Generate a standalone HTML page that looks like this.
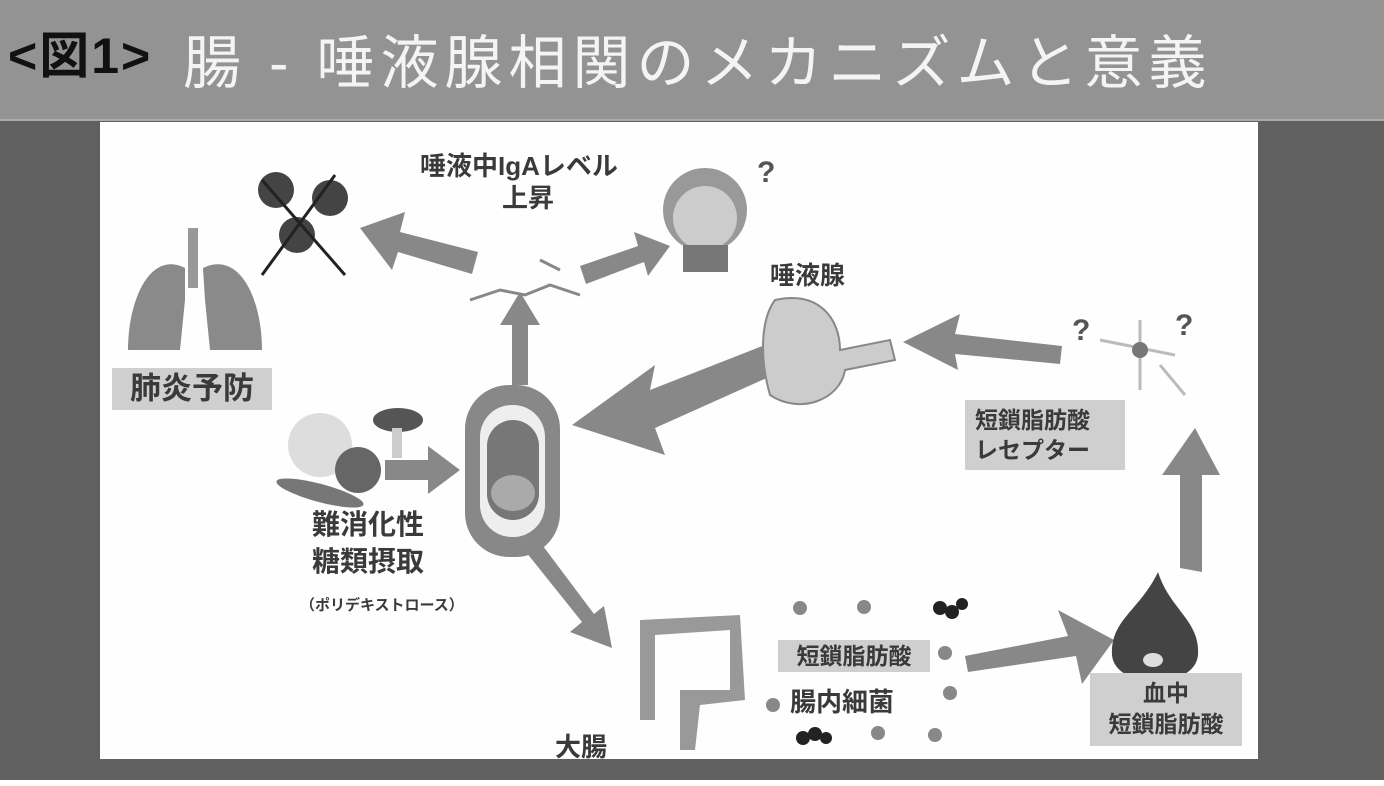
<!DOCTYPE html>
<html><head><meta charset="utf-8"><style>
html,body{margin:0;padding:0;}
body{width:1384px;height:786px;position:relative;overflow:hidden;background:#fff;font-family:"Liberation Sans","Noto Sans CJK JP",sans-serif;}
.banner{position:absolute;left:0;top:0;width:1384px;height:119px;background:#939393;border-bottom:2px solid #aaa;}
.dark{position:absolute;left:0;top:121px;width:1384px;height:659px;background:#606060;}
.panel{position:absolute;left:100px;top:122px;width:1158px;height:637px;background:#fefefe;}
.t{position:absolute;white-space:nowrap;color:#3a3a3a;font-weight:bold;}
.box{position:absolute;background:#cfcfcf;color:#3a3a3a;font-weight:bold;text-align:center;}
</style></head><body>
<div class="banner"></div>
<div class="t" style="left:8px;top:16px;font-size:50px;color:#111;letter-spacing:2px;">&lt;図1&gt;</div>
<div class="t" style="left:183px;top:16px;font-size:58px;color:#f4f4f4;font-weight:normal;letter-spacing:6px;">腸 - 唾液腺相関のメカニズムと意義</div>
<div class="dark"></div>
<div class="panel"></div>
<svg style="position:absolute;left:0;top:0" width="1384" height="786">
<g fill="#888">
<polygon points="478,252 400,232 405,212 360,228 392,270 398,252 472,274"/>
<polygon points="580,266 638,246 634,232 670,246 648,276 644,262 586,284"/>
<polygon points="512,385 512,325 500,325 520,292 540,325 528,325 528,385"/>
<polygon points="765,345 650,390 655,365 572,425 665,455 655,428 780,372"/>
<polygon points="1062,346 955,334 960,314 903,342 958,370 955,354 1060,364"/>
<polygon points="385,460 428,460 428,446 460,470 428,494 428,480 385,480"/>
<polygon points="526,552 582,622 570,632 612,648 604,606 594,614 540,542"/>
<polygon points="965,656 1068,636 1058,610 1114,640 1082,684 1076,656 968,672"/>
<polygon points="1180,568 1180,475 1162,475 1195,428 1220,475 1202,475 1202,572"/>
</g>
<g fill="#444"><circle cx="276" cy="190" r="18"/><circle cx="330" cy="198" r="18"/><circle cx="297" cy="235" r="18"/></g>
<line x1="262" y1="275" x2="335" y2="175" stroke="#222" stroke-width="3"/>
<line x1="262" y1="180" x2="345" y2="275" stroke="#222" stroke-width="3"/>
<rect x="188" y="228" width="10" height="60" fill="#999"/>
<path d="M185,268 C150,250 128,300 128,350 L180,350 L185,300Z" fill="#8a8a8a"/>
<path d="M203,268 C240,250 262,300 262,350 L210,350 L205,300Z" fill="#8a8a8a"/>
<circle cx="705" cy="210" r="42" fill="#999"/><circle cx="705" cy="218" r="32" fill="#ccc"/>
<rect x="683" y="245" width="45" height="27" fill="#777"/>
<g stroke="#888" stroke-width="3" fill="none"><path d="M470,300 l30,-10 l25,5 l25,-10 l30,10"/><path d="M540,260 l20,10"/></g>
<rect x="465" y="385" width="95" height="172" rx="44" fill="#888"/>
<rect x="480" y="405" width="65" height="132" rx="32" fill="#eee"/>
<rect x="487" y="420" width="52" height="100" rx="26" fill="#777"/>
<ellipse cx="513" cy="493" rx="22" ry="18" fill="#aaa"/>
<circle cx="320" cy="445" r="32" fill="#ddd"/>
<ellipse cx="398" cy="420" rx="25" ry="12" fill="#555"/>
<rect x="392" y="428" width="10" height="30" fill="#ccc"/>
<circle cx="358" cy="470" r="23" fill="#666"/>
<ellipse cx="320" cy="493" rx="45" ry="9" fill="#777" transform="rotate(15 320 493)"/>
<path d="M775,300 C820,290 840,320 840,350 L890,340 L895,360 L845,370 C840,400 800,415 770,395 C760,360 760,320 775,300Z" fill="#ccc" stroke="#888" stroke-width="2"/>
<g stroke="#bbb" stroke-width="3" fill="none"><path d="M1100,340 L1175,355 M1140,320 L1140,390 M1160,365 L1185,395"/></g>
<circle cx="1140" cy="350" r="8" fill="#777"/>
<text x="1072" y="340" font-size="30" font-weight="bold" fill="#555" font-family="Liberation Sans">?</text>
<text x="1175" y="335" font-size="30" font-weight="bold" fill="#555" font-family="Liberation Sans">?</text>
<text x="757" y="182" font-size="30" font-weight="bold" fill="#555" font-family="Liberation Sans">?</text>
<path d="M640,620 L740,615 L745,700 L700,705 L695,750 L680,750 L680,690 L730,690 L730,630 L655,635 L655,720 L640,720Z" fill="#999"/>
<g fill="#888"><circle cx="800" cy="608" r="7"/><circle cx="945" cy="653" r="7"/><circle cx="950" cy="693" r="7"/><circle cx="878" cy="733" r="7"/><circle cx="864" cy="607" r="7"/><circle cx="773" cy="705" r="7"/><circle cx="935" cy="735" r="7"/></g>
<g fill="#222"><circle cx="940" cy="608" r="7"/><circle cx="952" cy="612" r="7"/><circle cx="962" cy="604" r="6"/><circle cx="803" cy="738" r="7"/><circle cx="815" cy="734" r="7"/><circle cx="826" cy="738" r="6"/></g>
<path d="M1158,572 C1140,610 1110,620 1112,655 C1115,690 1195,690 1198,655 C1200,620 1170,610 1158,572Z" fill="#444"/>
<ellipse cx="1153" cy="660" rx="10" ry="7" fill="#ddd"/>
</svg>
<div class="t" style="left:420px;top:146px;font-size:26px;">唾液中IgAレベル</div>
<div class="t" style="left:502px;top:178px;font-size:26px;">上昇</div>
<div class="t" style="left:770px;top:256px;font-size:25px;">唾液腺</div>
<div class="box" style="left:112px;top:368px;width:160px;height:42px;font-size:31px;line-height:42px;">肺炎予防</div>
<div class="box" style="left:965px;top:400px;width:160px;height:70px;font-size:23px;line-height:30px;padding-top:5px;box-sizing:border-box;text-align:left;padding-left:10px;">短鎖脂肪酸<br>レセプター</div>
<div class="t" style="left:312px;top:506px;font-size:28px;line-height:37px;">難消化性<br>糖類摂取</div>
<div class="t" style="left:300px;top:594px;font-size:15px;">（ポリデキストロース）</div>
<div class="box" style="left:778px;top:640px;width:152px;height:32px;font-size:23px;line-height:32px;">短鎖脂肪酸</div>
<div class="t" style="left:790px;top:682px;font-size:26px;">腸内細菌</div>
<div class="t" style="left:555px;top:727px;font-size:26px;">大腸</div>
<div class="box" style="left:1090px;top:673px;width:152px;height:73px;font-size:23px;line-height:31px;padding-top:5px;box-sizing:border-box;">血中<br>短鎖脂肪酸</div>
</body></html>
